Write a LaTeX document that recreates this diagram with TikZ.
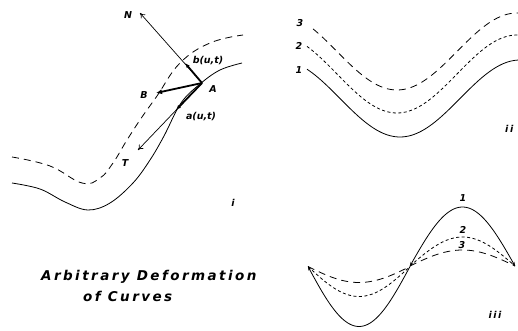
\documentclass[tikz,border=0pt]{standalone}
\usepackage{fontspec}
\newfontfamily\plotfont{DejaVu Sans}
\newfontfamily\titlefont{DejaVu Sans}[LetterSpace=18]
\usetikzlibrary{arrows.meta}
\begin{document}
\begin{tikzpicture}[x=1pt,y=-1pt,
  curve/.style={line width=0.8pt},
  longdash/.style={line width=0.8pt,dash pattern=on 7pt off 5pt},
  shortdash/.style={line width=0.8pt,dash pattern=on 3pt off 2.5pt},
  vec/.style={line width=0.7pt},
  thickvec/.style={line width=1.8pt},
  lbl/.style={font=\plotfont\bfseries\itshape\fontsize{9.5}{11}\selectfont,inner sep=0pt},
  title/.style={font=\titlefont\bfseries\itshape\fontsize{13.5}{16}\selectfont,inner sep=0pt,anchor=west}]
\useasboundingbox (0,0) rectangle (518,331);
% ---------- panel i ----------
\draw[curve] plot[smooth,tension=0.6] coordinates {(12,183) (40,189) (65,202) (88,210) (110,203) (133,183) (150,160) (164,136) (181,103) (200,84) (220,70) (242,63)};
\draw[longdash] plot[smooth,tension=0.7] coordinates {(12,157) (50,166) (82,183) (100,178) (113,163) (127,140) (142,117) (157,96) (180,63) (210,43) (243,35)};
\coordinate (A) at (202,83);
\coordinate (bpt) at (185,63);
\coordinate (Ntip) at (140,13);
\coordinate (Btip) at (156,93);
\coordinate (apt) at (176,110);
\coordinate (Ttip) at (138,150);
\draw[vec,-{To[length=5pt,width=6pt]}] (A) -- (Ntip);
\draw[thickvec,-{Latex[length=5pt,width=4pt]}] (A) -- (bpt);
\draw[thickvec,-{Latex[length=6pt,width=5pt]}] (A) -- (Btip);
\draw[vec,-{To[length=5pt,width=6pt]}] (A) -- (Ttip);
\draw[thickvec,-{Latex[length=5pt,width=4pt]}] (A) -- (apt);
\node[lbl] (lN) at (128,15) {N};
\node[lbl] (lA) at (213,89) {A};
\node[lbl] (lB) at (144,95) {B};
\node[lbl] (lT) at (125,163) {T};
\node[lbl] (lb) at (208,61) {b(u,t)};
\node[lbl] (la) at (201,117) {a(u,t)};
\node[lbl] (li) at (233,203) {i};
% ---------- panel ii ----------
\draw[curve] plot[domain=307:518,samples=80] (\x,{98.5+38.5*cos(1.5*(\x-400))});
\draw[shortdash] plot[domain=307:518,samples=80] (\x,{74+39*cos(1.5*(\x-397))});
\draw[longdash] plot[domain=313:518,samples=80] (\x,{51.5+38.5*cos(1.5*(\x-397))});
\node[lbl] (l1) at (299,70) {1};
\node[lbl] (l2) at (299,46) {2};
\node[lbl] (l3) at (300,23) {3};
\node[lbl,anchor=west] (lii) at (505,129) {i\,i};
% ---------- panel iii ----------
\draw[curve,-{Stealth[length=4pt,width=3pt]}] plot[domain=410:308,samples=60] (\x,{266.5+60*sin(1.7647*(\x-308))});
\draw[curve,{Stealth[length=4pt,width=3pt]}-{Stealth[length=4pt,width=3pt]}] plot[domain=410:515,samples=60] (\x,{266-59*sin(1.7143*(\x-410))});
\draw[shortdash] plot[domain=308:410,samples=50] (\x,{266.5+30*sin(1.7647*(\x-308))});
\draw[shortdash] plot[domain=410:515,samples=50] (\x,{266-29*sin(1.7143*(\x-410))});
\draw[longdash] plot[domain=308:410,samples=50] (\x,{266.5+16*sin(1.7647*(\x-308))});
\draw[longdash] plot[domain=410:515,samples=50] (\x,{266-16*sin(1.7143*(\x-410))});
\node[lbl] (m1) at (463,198) {1};
\node[lbl] (m2) at (463,230) {2};
\node[lbl] (m3) at (462,245) {3};
\node[lbl] (liii) at (495,315) {i\,i\,i};
% ---------- title ----------
\node[title] (t1) at (41,277) {Arbitrary Deformation};
\node[title] (t2) at (83,296) {of Curves};
\end{tikzpicture}
\end{document}
